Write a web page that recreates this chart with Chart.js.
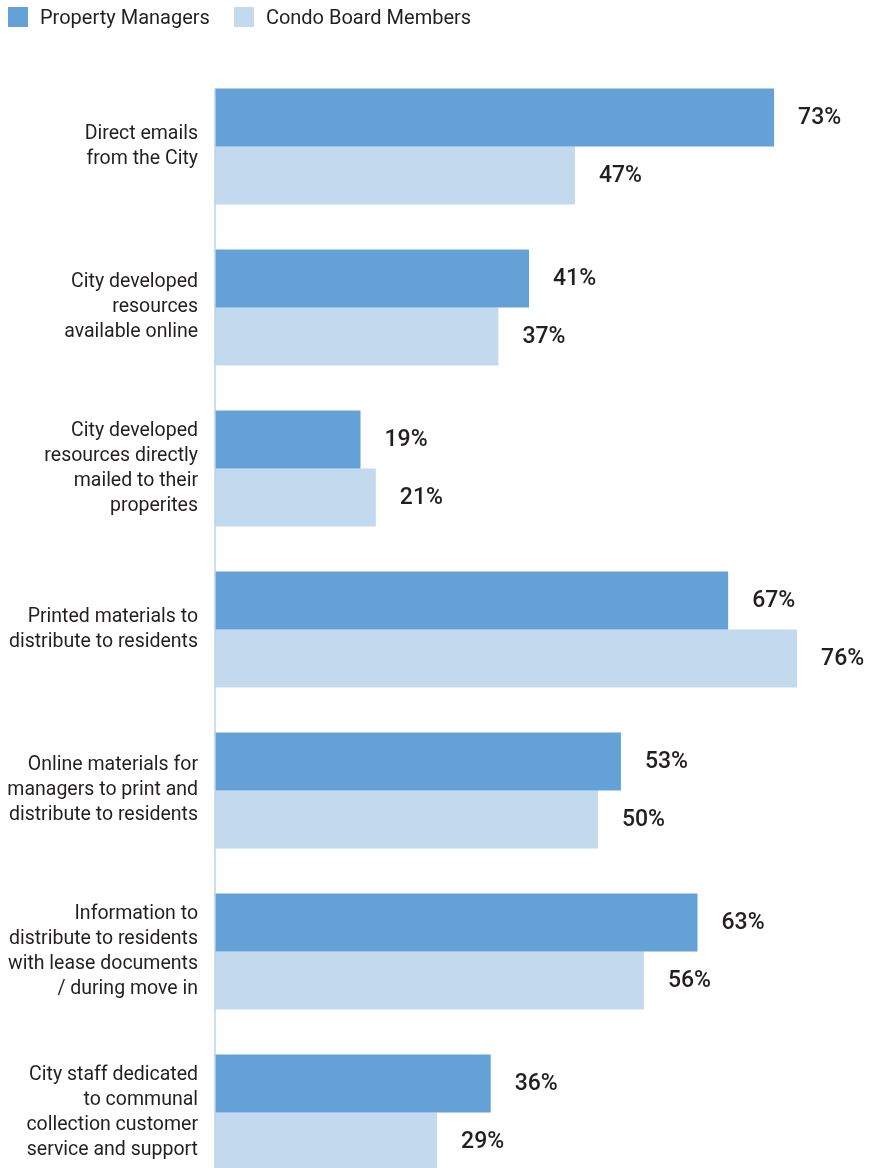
<!DOCTYPE html>
<html>
<head>
<meta charset="utf-8">
<script src="https://cdn.jsdelivr.net/npm/chart.js@4.4.1/dist/chart.umd.min.js"></script>
<style>
  body { margin: 0; overflow: hidden; background: #fff; font-family: Roboto, sans-serif; }
  #wrap { position: relative; width: 869px; height: 1168px; overflow: hidden; }
  #legend { position: absolute; left: 8px; top: 5px; display: flex; color: #231f20; font-size: 20px; }
  #legend span.item { display: flex; align-items: center; margin-right: 24px; }
  #legend span.box { width: 20px; height: 20px; margin-right: 12px; display: inline-block; }
  #myChart { position: absolute; left: 0; top: 0; }
</style>
</head>
<body>
<div id="wrap">
  <canvas id="myChart" width="869" height="1193"></canvas>
  <div id="legend"></div>
</div>
<script>
var categories = [
  ["Direct emails", "from the City"],
  ["City developed", "resources", "available online"],
  ["City developed", "resources directly", "mailed to their", "properites"],
  ["Printed materials to", "distribute to residents"],
  ["Online materials for", "managers to print and", "distribute to residents"],
  ["Information to", "distribute to residents", "with lease documents", "/ during move in"],
  ["City staff dedicated", "to communal", "collection customer", "service and support"]
];
var seriesNames = ["Property Managers", "Condo Board Members"];
var managers = [73, 41, 19, 67, 53, 63, 36];
var boardMembers = [47, 37, 21, 76, 50, 56, 29];
var colors = ["#64a1d6", "#c2d9ee"];

// value labels to the right of each bar + the axis line
var valueLabels = {
  id: 'valueLabels',
  afterDatasetsDraw: function(chart) {
    var ctx = chart.ctx;
    ctx.save();
    ctx.font = '500 23px Roboto';
    ctx.fillStyle = '#231f20';
    ctx.textAlign = 'left';
    ctx.textBaseline = 'middle';
    chart.data.datasets.forEach(function(ds, i) {
      var meta = chart.getDatasetMeta(i);
      meta.data.forEach(function(bar, j) {
        ctx.fillText(ds.data[j] + '%', bar.x + 24, bar.y + 1);
      });
    });
    var first = chart.getDatasetMeta(0).data[0];
    var left = chart.chartArea.left;
    ctx.strokeStyle = '#b9d3ec';
    ctx.lineWidth = 1.5;
    ctx.beginPath();
    ctx.moveTo(left, first.y - first.height / 2);
    ctx.lineTo(left, chart.height);
    ctx.stroke();
    ctx.restore();
  }
};

var ctx = document.getElementById("myChart").getContext('2d');
var chart = new Chart(ctx, {
  type: 'bar',
  data: {
    labels: categories,
    datasets: [{
      label: seriesNames[0],
      backgroundColor: colors[0],
      data: managers
    }, {
      label: seriesNames[1],
      backgroundColor: colors[1],
      data: boardMembers
    }]
  },
  options: {
    indexAxis: 'y',
    responsive: false,
    animation: false,
    categoryPercentage: 0.72,
    barPercentage: 1,
    layout: { padding: { top: 66, right: 3, left: 0, bottom: 0 } },
    plugins: {
      legend: { display: false },
      tooltip: { enabled: false }
    },
    scales: {
      x: { display: false, min: 0, max: 85 },
      y: {
        grid: { display: false, drawTicks: false },
        border: { display: false },
        afterFit: function(scale) {
          scale.width = 215;
          scale.paddingTop = 0;
          scale.paddingBottom = 0;
        },
        ticks: {
          autoSkip: false,
          padding: 17,
          color: '#231f20',
          font: { family: 'Roboto', size: 19.5, lineHeight: 1.28 }
        }
      }
    }
  },
  plugins: [valueLabels]
});

// generate HTML legend
var myLegendContainer = document.getElementById("legend");
var html = '';
for (var i = 0; i < chart.data.datasets.length; i += 1) {
  var ds = chart.data.datasets[i];
  html += '<span class="item"><span class="box" style="background:' + ds.backgroundColor + '"></span>' + ds.label + '</span>';
}
myLegendContainer.innerHTML = html;
</script>
</body>
</html>
